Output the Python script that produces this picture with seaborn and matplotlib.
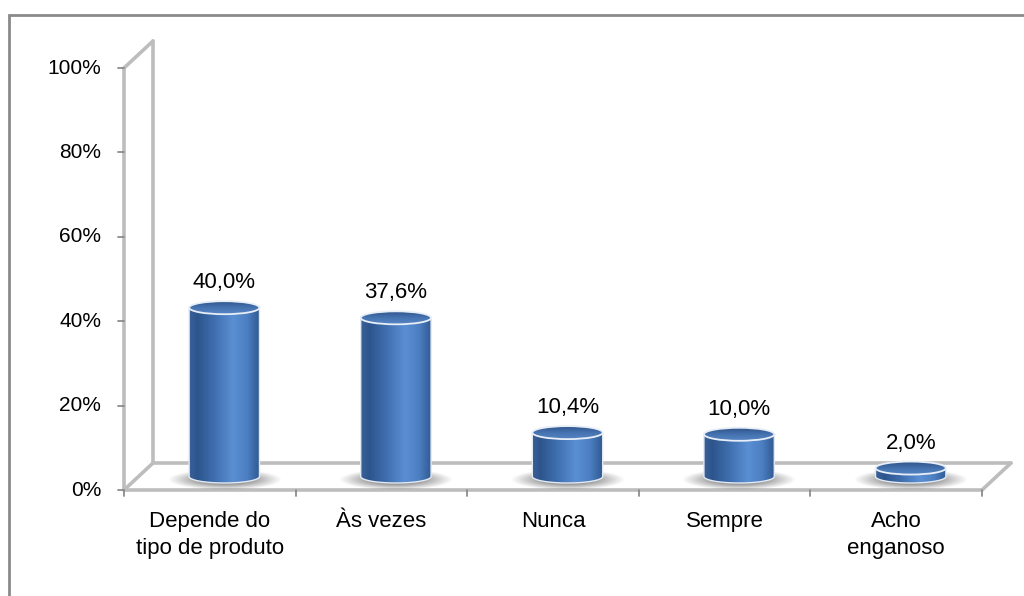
import numpy as np
import pandas as pd
import matplotlib
matplotlib.use("Agg")
import matplotlib.pyplot as plt
from matplotlib.colors import LinearSegmentedColormap
from matplotlib.patches import Ellipse, PathPatch, Rectangle
from matplotlib.path import Path
import matplotlib.transforms as mtransforms
import seaborn as sns

# ---- data ----
categories = ["Depende do\ntipo de produto", "Às vezes", "Nunca", "Sempre", "Acho\nenganoso"]
values = [40.0, 37.6, 10.4, 10.0, 2.0]
value_labels = ["40,0%", "37,6%", "10,4%", "10,0%", "2,0%"]
y_ticks = [0, 20, 40, 60, 80, 100]
y_tick_labels = ["0%", "20%", "40%", "60%", "80%", "100%"]

sns.set_theme(style="white")
plt.rcParams["font.family"] = ["Liberation Sans", "DejaVu Sans"]

W, H = 1024, 596
fig = plt.figure(figsize=(W / 100, H / 100), dpi=100)
fig.patch.set_facecolor("white")

px_x = 858 / 5.0      # pixels per category unit
px_y = 422 / 100.0    # pixels per percent
ymin = -8.0           # room below the floor for cylinder bottoms and shadows

# axes = the mid-depth plane of the pseudo-3D box
y0_px = 476.5
ax = fig.add_axes([138.5 / W, (H - (y0_px - ymin * px_y)) / H,
                   858 / W, (100 - ymin) * px_y / H])
df = pd.DataFrame({"categoria": categories, "valor": values})
sns.barplot(data=df, x="categoria", y="valor", ax=ax, width=0.41,
            color="#4f81bd", saturation=1)
ax.axis("off")

dx = 14.5 / px_x      # half depth, horizontal
dy = 13.5 / px_y      # half depth, vertical
b = 6.5 / px_y        # half height of cylinder ellipses

side_cmap = LinearSegmentedColormap.from_list("side", [
    (0.00, "#3a6097"), (0.12, "#2d558d"), (0.35, "#3f6eae"),
    (0.62, "#5a8fd3"), (0.82, "#4c7fc2"), (1.00, "#2f5890")])
top_cmap = LinearSegmentedColormap.from_list("top", ["#30558a", "#4573b0", "#5886c4"])
grad = np.linspace(0, 1, 256)[None, :]
vgrad = np.linspace(0, 1, 64)[:, None]

# soft floor shadow sprite
gx = np.linspace(-1, 1, 240)
gy = np.linspace(-1, 1, 80)
GX, GY = np.meshgrid(gx, gy)
r = np.sqrt(GX ** 2 + GY ** 2)
shadow = np.zeros((80, 240, 4))
shadow[..., :3] = 0.22
shadow[..., 3] = 0.95 * np.clip(1 - r, 0, 1) ** 1.0

for p in list(ax.patches):
    x0, w, h = p.get_x(), p.get_width(), p.get_height()
    cx = x0 + w / 2
    p.set_visible(False)

    sx, sy = 0.33, 2.4
    ax.imshow(shadow, extent=(cx - sx, cx + sx, -0.9 - sy, -0.9 + sy),
              aspect="auto", zorder=2, interpolation="bilinear")

    # cylinder body
    th = np.linspace(np.pi, 2 * np.pi, 60)
    bottom = np.column_stack([cx + (w / 2) * np.cos(th), b * np.sin(th)])
    verts = [(x0, h)] + bottom.tolist() + [(x0 + w, h), (x0, h)]
    codes = [Path.MOVETO] + [Path.LINETO] * (len(verts) - 2) + [Path.CLOSEPOLY]
    body = PathPatch(Path(verts, codes), facecolor="none",
                     edgecolor="#e3eaf4", lw=1.0, zorder=4)
    ax.add_patch(body)
    im = ax.imshow(grad, cmap=side_cmap, extent=(x0, x0 + w, -b, h),
                   aspect="auto", zorder=3, interpolation="bilinear")
    im.set_clip_path(body)

    # cylinder top
    top = Ellipse((cx, h), w, 2 * b, facecolor="none",
                  edgecolor="#e8eef7", lw=1.3, zorder=6)
    ax.add_patch(top)
    imt = ax.imshow(vgrad, cmap=top_cmap, extent=(x0, x0 + w, h - b, h + b),
                    aspect="auto", zorder=5, origin="upper", interpolation="bilinear")
    imt.set_clip_path(top)

# value labels above the bars
lab_tr = mtransforms.offset_copy(ax.transData, fig=fig, x=0, y=25, units="dots")
for i, (v, t) in enumerate(zip(values, value_labels)):
    ax.text(i, v, t, transform=lab_tr, ha="center", va="center",
            fontsize=16, color="#000000", clip_on=False, zorder=8)

# box frame: front and back walls, floor
frame = dict(color="#bdbdbd", lw=2.6, clip_on=False, zorder=1, solid_capstyle="round")
xl, xr = -0.5, 4.5
ax.plot([xl - dx, xl - dx], [-dy, 100 - dy], **frame)          # front vertical
ax.plot([xl + dx, xl + dx], [dy, 100 + dy], **frame)           # back vertical
ax.plot([xl - dx, xl + dx], [100 - dy, 100 + dy], **frame)     # top diagonal
ax.plot([xl + dx, xr + dx], [dy, dy], **frame)                 # floor back edge
ax.plot([xl - dx, xl + dx], [-dy, dy], **frame)                # floor left
ax.plot([xr - dx, xr + dx], [-dy, dy], **frame)                # floor right
ax.plot([xl - dx, xr - dx], [-dy, -dy], **frame)               # floor front edge

# ticks
tick = dict(color="#8c8c8c", lw=1.3, clip_on=False, zorder=1)
tlen_x = 6 / px_x
tlen_y = 6 / px_y
for yv, lab in zip(y_ticks, y_tick_labels):
    ax.plot([xl - dx - tlen_x, xl - dx], [yv - dy, yv - dy], **tick)
    ax.text(xl - dx - 23 / px_x, yv - dy, lab, ha="right", va="center",
            fontsize=15, color="#000000", clip_on=False)
for k in range(len(categories) + 1):
    xk = k - 0.5 - dx
    ax.plot([xk, xk], [-dy, -dy - tlen_y], **tick)

for i, c in enumerate(categories):
    ax.text(i - dx, -dy - 21 / px_y, c, ha="center", va="top", fontsize=16,
            linespacing=1.4, color="#000000", clip_on=False)

# outer chart border
fig.add_artist(Rectangle((9 / W, -0.1), 1.2, (H - 15) / H + 0.1,
                         transform=fig.transFigure, fill=False,
                         edgecolor="#8a8a8a", lw=2))

ax.set_xlim(-0.5, 4.5)
ax.set_ylim(ymin, 100)
fig.savefig("out.png", dpi=100)
